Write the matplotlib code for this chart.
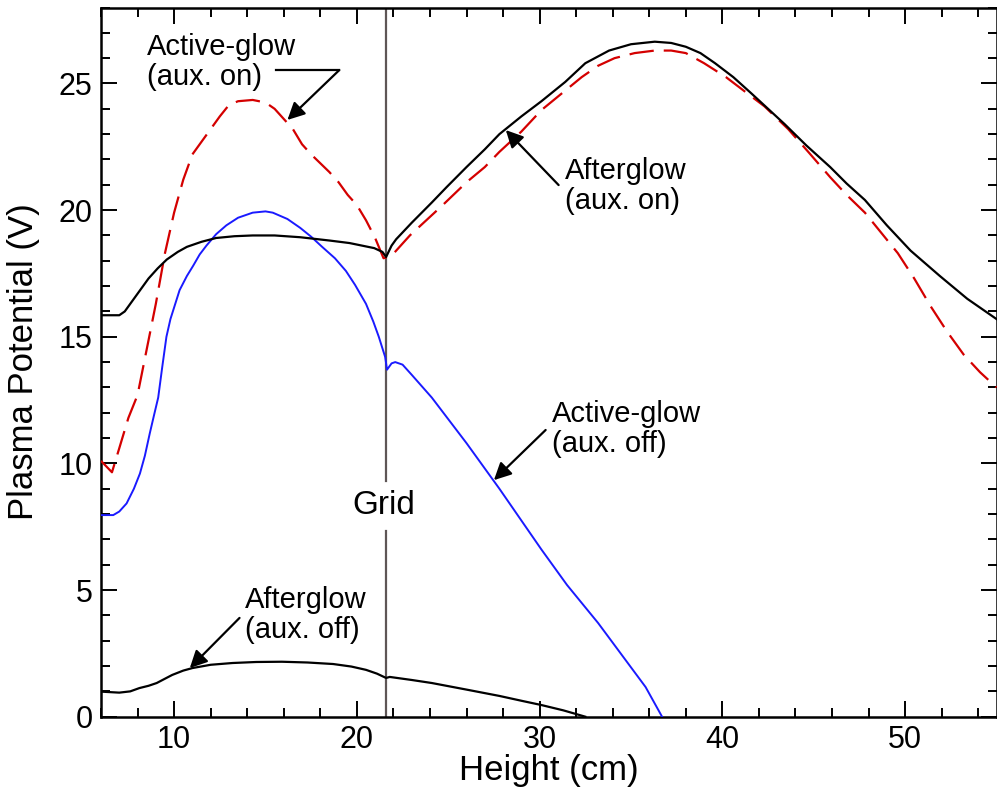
import matplotlib
matplotlib.use("Agg")
import matplotlib.pyplot as plt
from matplotlib.ticker import MultipleLocator

plt.rcParams['font.family'] = ['Liberation Sans', 'DejaVu Sans']

# Afterglow, auxiliary discharge on (solid black, upper)
ag_on_x = [6.0, 7.0, 7.3, 7.7, 8.1, 8.6, 9.1, 9.6, 10.2, 10.7, 11.5, 12.3, 13.3, 14.3, 15.5,
           16.9, 18.5, 19.6, 20.95, 21.4, 21.6, 21.9, 22.15, 23.0, 24.1, 24.9, 26.0, 27.0,
           27.8, 29.0, 30.1, 31.4, 32.5, 33.8, 35.0, 36.3, 37.2, 38.0, 38.8, 39.6, 40.6,
           41.6, 42.5, 43.4, 44.6, 45.9, 46.8, 47.8, 49.0, 50.3, 51.1, 51.9, 53.4, 55.0]
ag_on_y = [15.85, 15.85, 16.0, 16.4, 16.8, 17.3, 17.7, 18.05, 18.35, 18.55, 18.75, 18.9, 18.97,
           19.0, 19.0, 18.93, 18.8, 18.7, 18.5, 18.35, 18.15, 18.6, 18.85, 19.5, 20.3, 20.9,
           21.7, 22.4, 23.0, 23.7, 24.3, 25.06, 25.8, 26.3, 26.55, 26.65, 26.6, 26.45, 26.2,
           25.8, 25.25, 24.6, 24.0, 23.4, 22.55, 21.7, 21.05, 20.4, 19.4, 18.4, 17.9, 17.4,
           16.5, 15.7]

# Active-glow, auxiliary discharge on (dashed red)
act_on_x = [6.0, 6.6, 7.0, 7.5, 8.0, 8.5, 9.0, 9.5, 10.0, 10.5, 11.0, 11.5, 12.0, 12.5, 13.0,
            13.5, 14.3, 15.0, 15.5, 16.0, 16.5, 17.0, 17.5, 18.0, 18.5, 19.0, 19.5, 20.0,
            20.5, 21.0, 21.46, 21.9, 22.4, 22.9, 23.8, 24.7, 26.0, 27.0, 27.8, 29.0, 30.1,
            31.2, 32.3, 33.2, 34.1, 35.2, 36.3, 37.2, 38.0, 39.0, 40.2, 41.2, 42.3, 43.6,
            44.7, 45.9, 46.8, 47.8, 48.7, 49.6, 50.5, 51.4, 52.3, 53.2, 54.1, 55.0]
act_on_y = [10.1, 9.65, 10.6, 11.8, 12.7, 14.5, 16.3, 18.3, 19.9, 21.2, 22.2, 22.7, 23.2, 23.7,
            24.15, 24.3, 24.35, 24.25, 24.0, 23.6, 23.2, 22.6, 22.2, 21.85, 21.5, 21.1, 20.6,
            20.2, 19.6, 18.9, 18.1, 18.2, 18.6, 19.0, 19.6, 20.2, 21.1, 21.7, 22.3, 23.1, 23.95,
            24.6, 25.25, 25.7, 26.0, 26.2, 26.3, 26.3, 26.2, 25.8, 25.25, 24.7, 24.1, 23.2,
            22.3, 21.3, 20.6, 19.9, 19.1, 18.3, 17.3, 16.2, 15.2, 14.3, 13.6, 13.0]

# Active-glow, auxiliary discharge off (blue)
act_off_x = [6.0, 6.67, 7.0, 7.4, 7.8, 8.13, 8.4, 8.67, 8.9, 9.13, 9.35, 9.58, 9.8, 10.3, 10.7,
             11.04, 11.4, 11.77, 12.3, 12.86, 13.5, 14.3, 15.0, 15.4, 16.2, 16.9, 17.5, 18.1,
             18.8, 19.4, 19.9, 20.5, 20.9, 21.2, 21.55, 21.65, 21.9, 22.1, 22.5, 23.0, 24.1,
             26.0, 27.8, 30.1, 31.5, 33.2, 35.8, 36.7]
act_off_y = [7.96, 7.96, 8.1, 8.42, 9.0, 9.6, 10.3, 11.19, 11.9, 12.6, 13.8, 15.0, 15.7, 16.84,
             17.4, 17.8, 18.25, 18.6, 19.05, 19.4, 19.7, 19.9, 19.95, 19.9, 19.65, 19.3, 18.95,
             18.55, 18.1, 17.6, 17.05, 16.3, 15.6, 15.0, 14.2, 13.7, 13.95, 14.0, 13.9, 13.5,
             12.6, 10.8, 9.0, 6.6, 5.2, 3.7, 1.17, 0.0]

# Afterglow, auxiliary discharge off (solid black, lower)
ag_off_x = [6.0, 7.0, 7.6, 8.1, 8.6, 9.05, 9.5, 9.9, 10.5, 11.0, 12.0, 13.2, 14.5, 15.9, 17.3,
            18.7, 19.7, 20.5, 21.1, 21.6, 21.8, 23.0, 24.1, 26.0, 27.8, 29.0, 30.1, 31.3, 32.5]
ag_off_y = [0.99, 0.95, 1.0, 1.13, 1.22, 1.33, 1.5, 1.65, 1.82, 1.92, 2.05, 2.12, 2.16, 2.17,
            2.14, 2.08, 1.98, 1.85, 1.7, 1.53, 1.57, 1.45, 1.33, 1.07, 0.82, 0.63, 0.46, 0.25,
            0.0]

grid_x = 21.6
x_limits = (6, 55)
y_limits = (0, 28)

fig = plt.figure(figsize=(9.97, 7.92), dpi=100)
ax = fig.add_axes([101 / 997, 1 - 716.7 / 792, 895.5 / 997, 709.2 / 792])

# grid position marker, interrupted by its label
grid_col = '#5e5656'
ax.plot([grid_x, grid_x], [0, 7.35], color=grid_col, lw=1.6, zorder=1)
ax.plot([grid_x, grid_x], [9.3, 28], color=grid_col, lw=1.6, zorder=1)
ax.text(grid_x - 0.15, 8.33, 'Grid', fontsize=24, ha='center', va='center')

ax.plot(act_off_x, act_off_y, color='#1a1aff', lw=1.4, zorder=3)
ax.plot(act_on_x, act_on_y, color='#d40000', lw=1.6, linestyle=(0, (11, 4.5)), zorder=3)
ax.plot(ag_on_x, ag_on_y, color='black', lw=1.6, zorder=4)
ax.plot(ag_off_x, ag_off_y, color='black', lw=1.6, zorder=4)

ax.set_xlim(*x_limits)
ax.set_ylim(*y_limits)

arrow = dict(arrowstyle='-|>', color='black', lw=1.6, mutation_scale=26,
             shrinkA=0, shrinkB=0)
txt_kw = dict(fontsize=21, ha='left', va='center', linespacing=1.1)

ax.text(8.5, 25.85, 'Active-glow\n(aux. on)', **txt_kw)
ax.plot([15.6, 19.04], [25.53, 25.53], color='black', lw=1.6)
ax.annotate('', xy=(16.2, 23.56), xytext=(19.04, 25.53), arrowprops=arrow)

ax.text(31.4, 20.95, 'Afterglow\n(aux. on)', **txt_kw)
ax.annotate('', xy=(28.15, 23.16), xytext=(31.04, 20.99), arrowprops=arrow)

ax.text(30.7, 11.35, 'Active-glow\n(aux. off)', **txt_kw)
ax.annotate('', xy=(27.5, 9.34), xytext=(30.33, 11.32), arrowprops=arrow)

ax.text(13.9, 4.0, 'Afterglow\n(aux. off)', **txt_kw)
ax.annotate('', xy=(10.86, 1.92), xytext=(13.58, 3.9), arrowprops=arrow)

ax.xaxis.set_major_locator(MultipleLocator(10))
ax.xaxis.set_minor_locator(MultipleLocator(2))
ax.yaxis.set_major_locator(MultipleLocator(5))
ax.yaxis.set_minor_locator(MultipleLocator(1))
ax.tick_params(which='both', direction='in', top=True, right=True, width=1.4,
               labelsize=22)
ax.tick_params(which='major', length=11.5, pad=6)
ax.tick_params(which='minor', length=6.5)
for sp in ax.spines.values():
    sp.set_linewidth(1.8)

ax.set_xlabel('Height (cm)', fontsize=25)
ax.set_ylabel('Plasma Potential (V)', fontsize=25)
ax.xaxis.set_label_coords(0.5, -0.052)
ax.yaxis.set_label_coords(-0.068, 0.5)

fig.savefig('out.png', dpi=100)
